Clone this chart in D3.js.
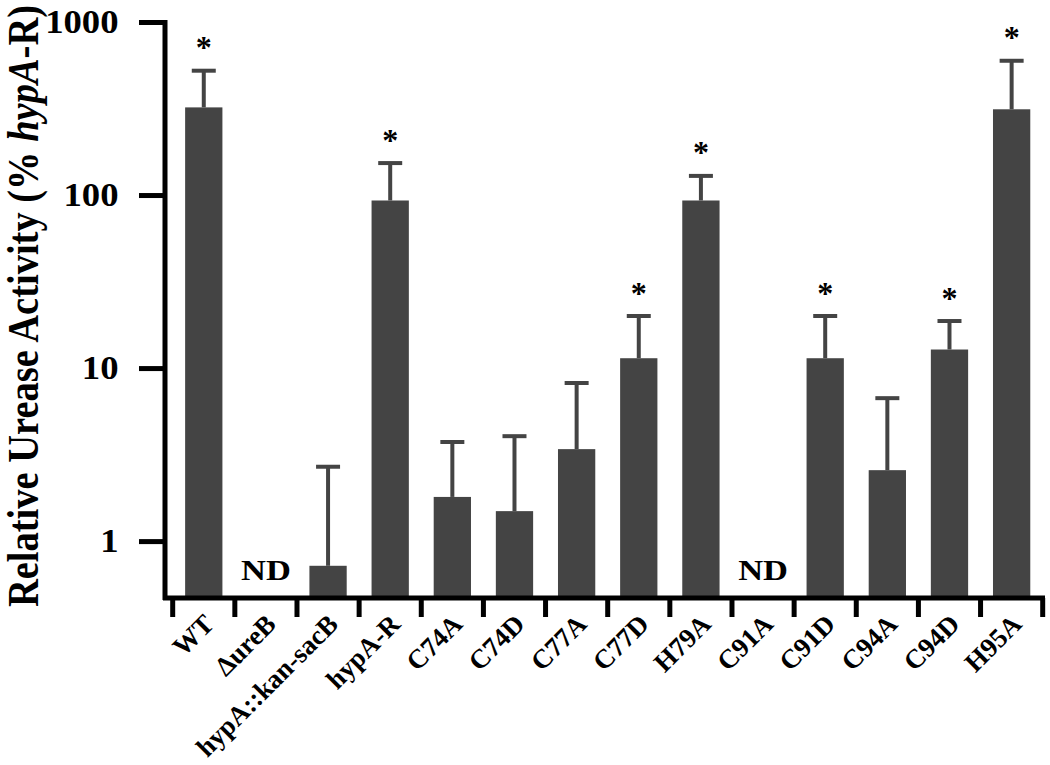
<!DOCTYPE html>
<html><head><meta charset="utf-8">
<script src="https://cdn.jsdelivr.net/npm/d3@7"></script>
<style>body{margin:0;background:#fff}svg{display:block}text{font-family:"Liberation Serif","Times New Roman",serif;font-weight:bold}</style>
</head><body><svg id="c" width="1050" height="765"></svg>
<script>
const categories = ["WT","\u0394ureB","hypA::kan-sacB","hypA-R","C74A","C74D","C77A","C77D","H79A","C91A","C91D","C94A","C94D","H95A"];
const means = [321, null, 0.72, 93, 1.80, 1.49, 3.40, 11.4, 93, null, 11.4, 2.57, 12.8, 313];
const upperErr = [523, null, 2.69, 153, 3.74, 4.04, 8.2, 20.0, 129, null, 20.0, 6.7, 18.7, 597];
const significant = [true,false,false,true,false,false,false,true,true,false,true,false,true,true];
const notDetected = [false,true,false,false,false,false,false,false,false,true,false,false,false,false];
const yTicks = [1, 10, 100, 1000];
const yTitle = ["Relative Urease Activity (% ", "hypA", "-R)"];

const svg = d3.select("#c");
const color = "#444444";
const x = d3.scaleBand().domain(categories).range([172.7, 1042.7]).paddingInner(0.4).paddingOuter(0.2);
const y = d3.scaleLog().domain([0.469, 1000]).range([598, 22]);
const cx = d => x(d) + x.bandwidth()/2;

const data = categories.map((c,i)=>({c, m:means[i], e:upperErr[i], s:significant[i], nd:notDetected[i]}));
svg.selectAll("rect.bar").data(data.filter(d=>d.m!=null)).join("rect")
  .attr("x", d=>x(d.c)).attr("width", x.bandwidth())
  .attr("y", d=>y(d.m)).attr("height", d=>y.range()[0]-y(d.m))
  .attr("fill", color);
const eb = svg.selectAll("g.eb").data(data.filter(d=>d.e!=null)).join("g");
eb.append("line").attr("x1", d=>cx(d.c)).attr("x2", d=>cx(d.c))
  .attr("y1", d=>y(d.m)).attr("y2", d=>y(d.e)).attr("stroke", color).attr("stroke-width", 4);
eb.append("line").attr("x1", d=>cx(d.c)-12).attr("x2", d=>cx(d.c)+12)
  .attr("y1", d=>y(d.e)).attr("y2", d=>y(d.e)).attr("stroke", color).attr("stroke-width", 4);
svg.selectAll("text.ast").data(data.filter(d=>d.s)).join("text")
  .attr("x", d=>cx(d.c)).attr("y", d=>y(d.e)-30)
  .attr("text-anchor","middle").attr("font-size", 32).attr("dy","0.55em")
  .text("*");
svg.selectAll("text.nd").data(data.filter(d=>d.nd)).join("text")
  .attr("transform", d=>`translate(${cx(d.c)},580) scale(1.15,1)`)
  .attr("text-anchor","middle").attr("font-size", 30).text("ND");

// y axis
const yAxis = d3.axisLeft(y).tickValues(yTicks).tickFormat(d3.format("d")).tickSize(26).tickSizeOuter(0).tickPadding(17);
const gy = svg.append("g").attr("transform","translate(165,0)").call(yAxis);
gy.select(".domain").attr("stroke","#000").attr("stroke-width",5).attr("d", "M0,20V600");
gy.selectAll(".tick line").attr("stroke","#000").attr("stroke-width",5);
gy.selectAll(".tick text").attr("font-size",34).attr("fill","#000").attr("font-family",'"Liberation Serif",serif').attr("font-weight","bold").attr("dy","0.3em")
  .attr("transform","scale(1.08,1)");

// x axis
const xTickPos = d3.range(categories.length+1).map(i=>x.range()[0] + i*x.step());
const gx = svg.append("g");
gx.append("line").attr("x1",163).attr("x2",1045).attr("y1",598).attr("y2",598).attr("stroke","#000").attr("stroke-width",5);
gx.selectAll("line.t").data(xTickPos).join("line").attr("x1",d=>d).attr("x2",d=>d).attr("y1",598).attr("y2",617).attr("stroke","#000").attr("stroke-width",5);
gx.selectAll("text.xl").data(categories).join("text")
  .attr("transform", d=>`translate(${cx(d)+5},${619}) rotate(-45)`)
  .attr("text-anchor","end").attr("dy","0.35em").attr("font-size",27).text(d=>d);

// y title
const t = svg.append("text").attr("transform","translate(38,306) rotate(-90) scale(1,1.15)").attr("text-anchor","middle").attr("font-size",38.5);
t.append("tspan").text(yTitle[0]);
t.append("tspan").attr("font-style","italic").text(yTitle[1]);
t.append("tspan").text(yTitle[2]);
</script></body></html>
